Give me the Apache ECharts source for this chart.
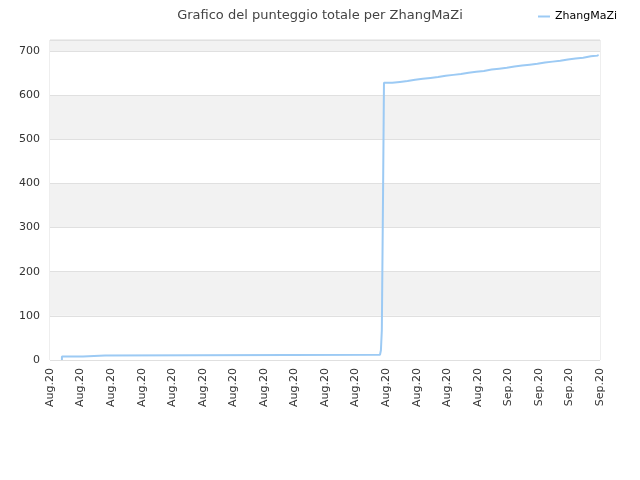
<!DOCTYPE html>
<html><head><meta charset="utf-8">
<script src="https://cdn.jsdelivr.net/npm/echarts@6/dist/echarts.min.js"></script>
<style>html,body{margin:0;padding:0;background:#fff}#c{width:640px;height:480px}</style>
</head><body><div id="c"></div>
<script>
var tickLabels = ['Aug.20','Aug.20','Aug.20','Aug.20','Aug.20','Aug.20','Aug.20','Aug.20','Aug.20','Aug.20','Aug.20','Aug.20','Aug.20','Aug.20','Aug.20','Sep.20','Sep.20','Sep.20','Sep.20'];
var xPos = [0.39,0.39,1.08,1.80,10.80,10.83,10.86,10.90,10.93,11.2,11.45,11.7,11.95,12.2,12.45,12.7,12.95,13.2,13.45,13.7,13.95,14.2,14.45,14.7,14.95,15.2,15.45,15.7,15.95,16.2,16.45,16.7,16.95,17.2,17.45,17.7,17.93];
var scores = [0,8,10,12,15,22,68,378,628,630,632,635,637,639,641,644,646,648,651,653,655,658,660,662,665,667,669,671,674,676,678,681,683,685,688,690,692];
var seriesName = 'ZhangMaZi';
var data = xPos.map(function(x,i){return [x, scores[i]];});
var chart = echarts.init(document.getElementById('c'));
chart.setOption({
  animation:false,
  title:{text:'Grafico del punteggio totale per ZhangMaZi',left:'center',top:4,
    textStyle:{fontSize:13,fontWeight:'normal',color:'#444',fontFamily:'DejaVu Sans'}},
  legend:{right:18,top:6,itemWidth:12,itemHeight:2,icon:'rect',
    textStyle:{fontSize:11,color:'#000',fontFamily:'DejaVu Sans'},data:[seriesName]},
  grid:{left:50,right:40,top:40,bottom:120,show:true,borderColor:'#ddd',borderWidth:1},
  xAxis:{type:'value',min:0,max:18,interval:1,
    axisLine:{show:false},axisTick:{show:false},splitLine:{show:false},
    axisLabel:{rotate:90,fontSize:11,color:'#333',fontFamily:'DejaVu Sans',margin:8,
      formatter:function(v){return tickLabels[Math.round(v)]||'';}}},
  yAxis:{type:'value',min:0,max:725,interval:100,
    axisLine:{show:false},axisTick:{show:false},
    splitLine:{show:true,lineStyle:{color:'#e0e0e0'}},
    splitArea:{show:true,areaStyle:{color:['#ffffff','#f2f2f2']}},
    axisLabel:{fontSize:11,color:'#333',fontFamily:'DejaVu Sans',margin:10,showMaxLabel:false}},
  series:[{name:seriesName,type:'line',step:'end',data:data,showSymbol:false,
    lineStyle:{color:'#9ccaf4',width:2},itemStyle:{color:'#9ccaf4'}}]
});
</script></body></html>
